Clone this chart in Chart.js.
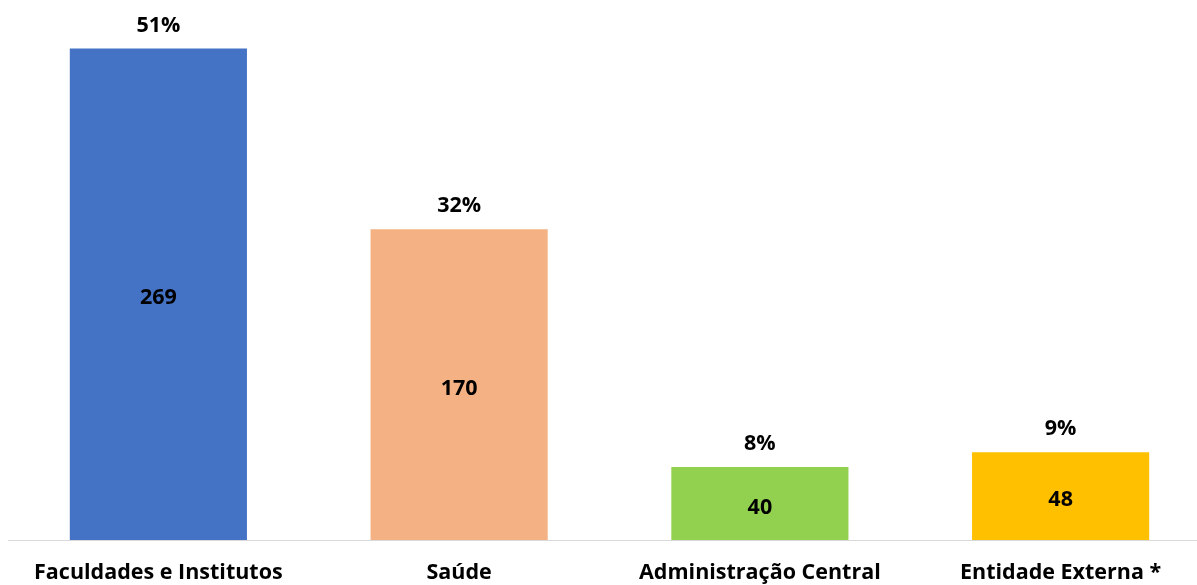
<!DOCTYPE html>
<html>
<head>
<meta charset="utf-8">
<script src="https://cdn.jsdelivr.net/npm/chart.js@4"></script>
<style>
  html, body { margin: 0; padding: 0; background: #fff; overflow: hidden; }
  #wrap { position: relative; width: 1211px; height: 585px; }
</style>
</head>
<body>
<div id="wrap"><canvas id="chart"></canvas></div>
<script>
// data
const categories = ['Faculdades e Institutos', 'Saúde', 'Administração Central', 'Entidade Externa *'];
const counts = [269, 170, 40, 48];
const percentLabels = ['51%', '32%', '8%', '9%'];
const barColors = ['#4472C4', '#F4B183', '#92D050', '#FFC000'];

const FONT = '"Open Sans", Lato, sans-serif';

// draws the numbers inside the bars, the percentages above and the category names
const labelPlugin = {
  id: 'barLabels',
  afterDatasetsDraw(chart) {
    const ctx = chart.ctx;
    const meta = chart.getDatasetMeta(0);
    const bottom = chart.chartArea.bottom;
    ctx.save();
    ctx.fillStyle = '#000';
    ctx.textAlign = 'center';
    ctx.textBaseline = 'middle';
    ctx.font = 'bold 21.5px ' + FONT;
    meta.data.forEach((bar, i) => {
      ctx.fillText(String(counts[i]), bar.x, (bar.y + bottom) / 2 + 4);
      ctx.fillText(percentLabels[i], bar.x, bar.y - 23);
      ctx.fillText(categories[i], bar.x, bottom + 33);
    });
    ctx.restore();
  }
};

new Chart(document.getElementById('chart'), {
  type: 'bar',
  data: {
    labels: categories,
    datasets: [{
      data: counts,
      backgroundColor: barColors,
      borderWidth: 0,
      categoryPercentage: 1,
      barPercentage: 0.589
    }]
  },
  options: {
    responsive: true,
    maintainAspectRatio: false,
    animation: false,
    layout: { padding: { left: 8, right: 0, top: 10, bottom: 37 } },
    plugins: { legend: { display: false }, tooltip: { enabled: false } },
    scales: {
      x: {
        ticks: { display: false },
        grid: { display: false },
        border: { display: true, color: '#D9D9D9', width: 1 }
      },
      y: {
        display: false,
        min: 0,
        max: 290
      }
    }
  },
  plugins: [labelPlugin]
});
</script>
</body>
</html>
